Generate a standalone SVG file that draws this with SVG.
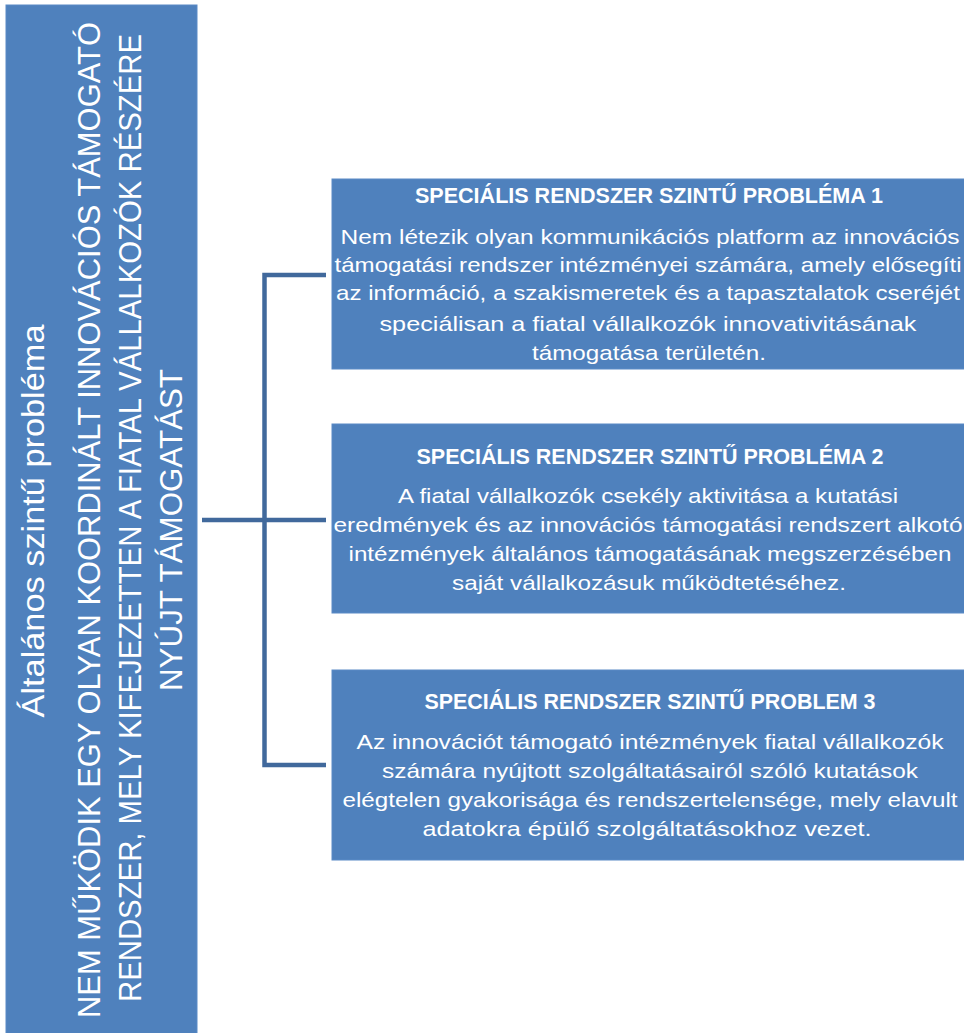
<svg xmlns="http://www.w3.org/2000/svg" width="964" height="1033" viewBox="0 0 964 1033">
<style>
.box{fill:#4F81BD;stroke:#5A8AC6;stroke-width:1}
.t{font-family:"Liberation Sans",Arial,sans-serif;fill:#fff;text-anchor:middle}
.h{font-size:22px;font-weight:bold}
.b{font-size:21px}
.v{font-size:31px}
.conn{stroke:#41699C;stroke-width:4.5;fill:none;stroke-linejoin:miter}
</style>
<rect width="964" height="1033" fill="#fff"/>
<g id="general">
<rect class="box" x="6" y="5" width="191" height="1032"/>
<text class="t v" transform="translate(44,521) rotate(-90)" textLength="393" lengthAdjust="spacingAndGlyphs">Általános szintű probléma</text>
<text class="t v" transform="translate(100,520) rotate(-90)" textLength="996" lengthAdjust="spacingAndGlyphs">NEM MŰKÖDIK EGY OLYAN KOORDINÁLT INNOVÁCIÓS TÁMOGATÓ</text>
<text class="t v" transform="translate(141,518) rotate(-90)" textLength="968" lengthAdjust="spacingAndGlyphs">RENDSZER, MELY KIFEJEZETTEN A FIATAL VÁLLALKOZÓK RÉSZÉRE</text>
<text class="t v" transform="translate(182,530) rotate(-90)" textLength="322" lengthAdjust="spacingAndGlyphs">NYÚJT TÁMOGATÁST</text>
</g>
<g id="connectors">
<path class="conn" d="M202,520 H326 M326,275 H264.5 V765 H326"/>
</g>
<g id="problem1">
<rect class="box" x="332" y="179" width="640" height="190"/>
<text class="t h" x="649" y="203" textLength="468" lengthAdjust="spacingAndGlyphs">SPECIÁLIS RENDSZER SZINTŰ PROBLÉMA 1</text>
<text class="t b" x="650" y="244" textLength="619" lengthAdjust="spacingAndGlyphs">Nem létezik olyan kommunikációs platform az innovációs</text>
<text class="t b" x="648" y="272" textLength="627" lengthAdjust="spacingAndGlyphs">támogatási rendszer intézményei számára, amely elősegíti</text>
<text class="t b" x="648" y="300" textLength="624" lengthAdjust="spacingAndGlyphs">az információ, a szakismeretek és a tapasztalatok cseréjét</text>
<text class="t b" x="648" y="331" textLength="537" lengthAdjust="spacingAndGlyphs">speciálisan a fiatal vállalkozók innovativitásának</text>
<text class="t b" x="649" y="360" textLength="234" lengthAdjust="spacingAndGlyphs">támogatása területén.</text>
</g>
<g id="problem2">
<rect class="box" x="332" y="424" width="640" height="189"/>
<text class="t h" x="650" y="464" textLength="467" lengthAdjust="spacingAndGlyphs">SPECIÁLIS RENDSZER SZINTŰ PROBLÉMA 2</text>
<text class="t b" x="648" y="503" textLength="500" lengthAdjust="spacingAndGlyphs">A fiatal vállalkozók csekély aktivitása a kutatási</text>
<text class="t b" x="648" y="532" textLength="629" lengthAdjust="spacingAndGlyphs">eredmények és az innovációs támogatási rendszert alkotó</text>
<text class="t b" x="650" y="561" textLength="603" lengthAdjust="spacingAndGlyphs">intézmények általános támogatásának megszerzésében</text>
<text class="t b" x="649" y="590" textLength="394" lengthAdjust="spacingAndGlyphs">saját vállalkozásuk működtetéséhez.</text>
</g>
<g id="problem3">
<rect class="box" x="332" y="670" width="640" height="190"/>
<text class="t h" x="650" y="709" textLength="451" lengthAdjust="spacingAndGlyphs">SPECIÁLIS RENDSZER SZINTŰ PROBLEM 3</text>
<text class="t b" x="650" y="749" textLength="587" lengthAdjust="spacingAndGlyphs">Az innovációt támogató intézmények fiatal vállalkozók</text>
<text class="t b" x="650" y="778" textLength="536" lengthAdjust="spacingAndGlyphs">számára nyújtott szolgáltatásairól szóló kutatások</text>
<text class="t b" x="650" y="807" textLength="615" lengthAdjust="spacingAndGlyphs">elégtelen gyakorisága és rendszertelensége, mely elavult</text>
<text class="t b" x="647" y="836" textLength="449" lengthAdjust="spacingAndGlyphs">adatokra épülő szolgáltatásokhoz vezet.</text>
</g>
</svg>
